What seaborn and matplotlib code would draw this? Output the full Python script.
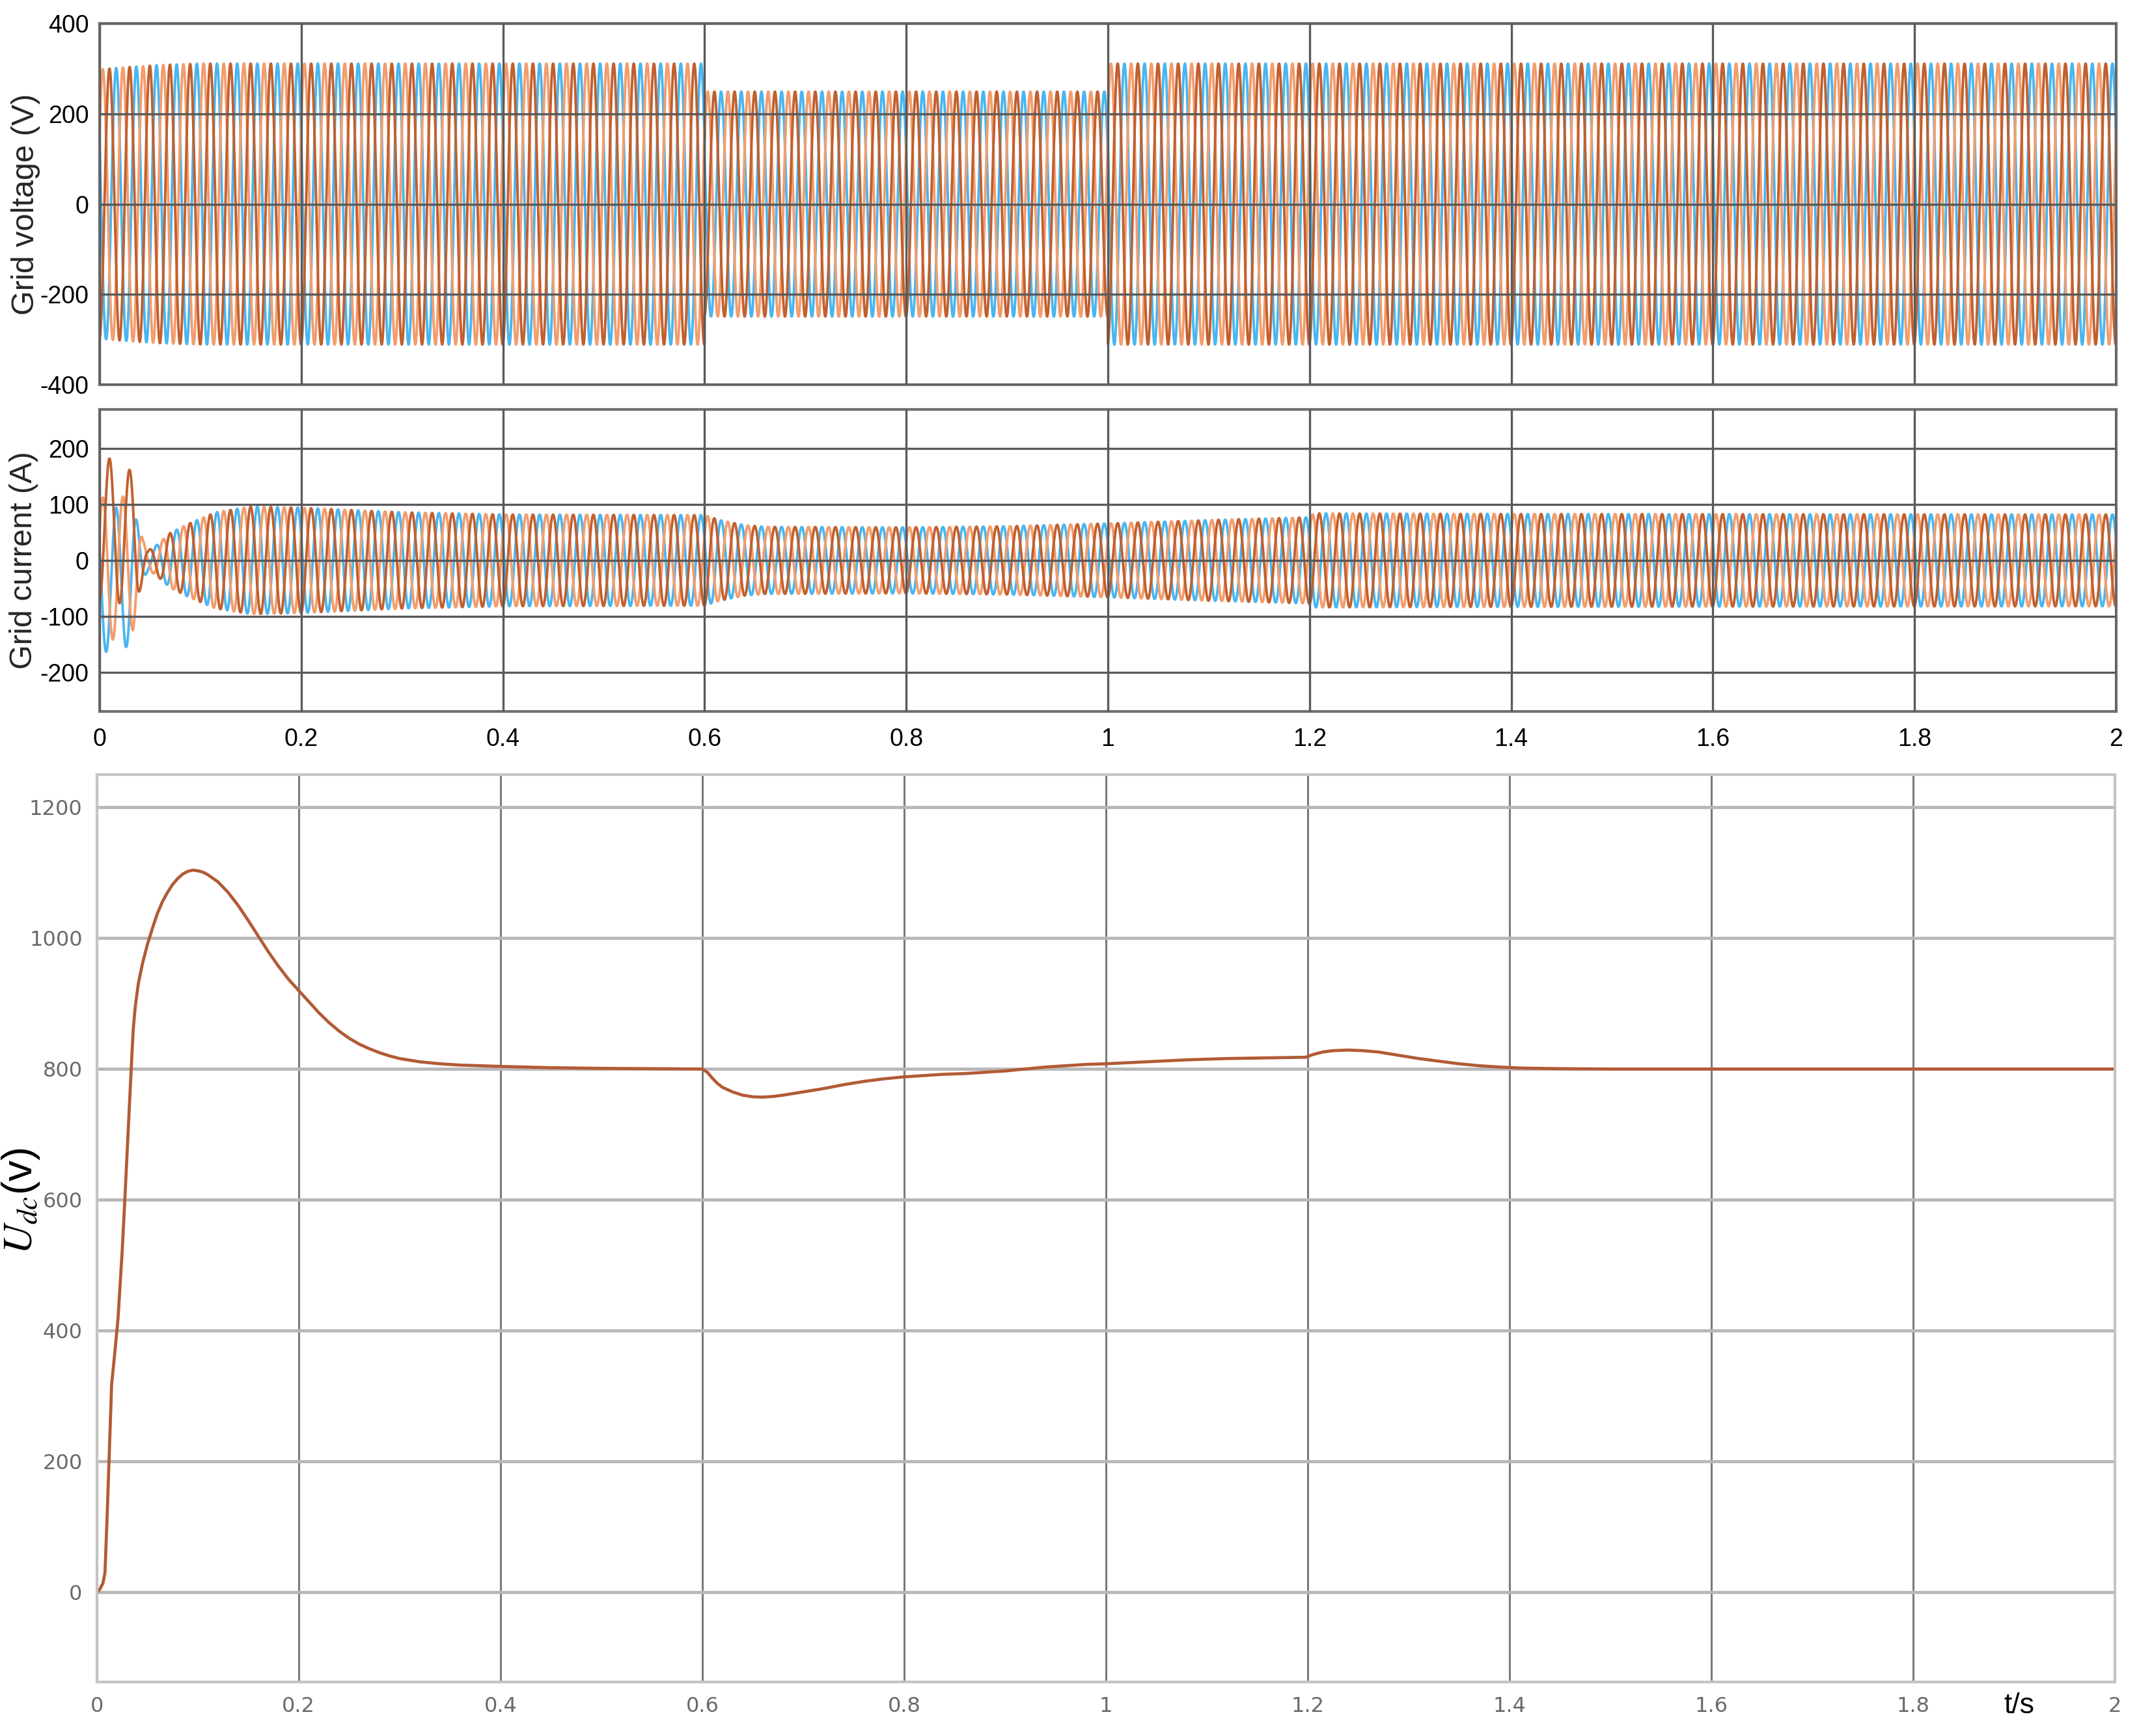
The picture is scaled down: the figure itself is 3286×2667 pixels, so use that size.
import numpy as np
import pandas as pd
import matplotlib.pyplot as plt
import matplotlib.ticker as mticker
import seaborn as sns

# ---- values ----
# grid voltage amplitude envelope (V), sag to 80% between 0.6 s and 1.0 s
v_env_t = [0.0, 0.02, 0.06, 0.10, 0.5999, 0.6, 0.9999, 1.0, 2.0]
v_env_amp = [298, 302, 308, 311, 311, 249, 249, 311, 311]

# grid current amplitude envelope (A)
i_env_t = [0.0, 0.008, 0.025, 0.033, 0.038, 0.043, 0.048, 0.055, 0.07, 0.09, 0.115,
           0.15, 0.2, 0.3, 0.4, 0.6, 0.615, 0.64, 0.66, 0.8, 0.9, 1.0, 1.1,
           1.199, 1.205, 1.4, 2.0]
i_env_amp = [125, 130, 125, 115, 80, 35, 18, 25, 49, 67, 86,
             96, 94, 86, 82, 81, 72, 63, 60, 59, 61, 66, 72,
             77, 84, 83, 82]

# start-up dc offset of each phase current (A)
i_dc_t = [0.0, 0.02, 0.033, 0.042]
i_dc_a = [55, 50, 40, 0]
i_dc_b = [-15, -12, -10, 0]
i_dc_c = [-35, -33, -30, 0]

grid_freq = 50
phases = ['a', 'b', 'c']
phase_shift_deg = [-85, 35, 155]
phase_colors = {'c': '#4ab6f0', 'b': '#f39d6d', 'a': '#c2602f'}

# dc-link voltage Udc (V)
udc_t = [0.0, 0.003, 0.006, 0.008, 0.010, 0.012, 0.0146, 0.018, 0.021, 0.025,
         0.028, 0.031, 0.034, 0.036, 0.038, 0.041, 0.045, 0.050, 0.055, 0.060,
         0.065, 0.070, 0.075, 0.080, 0.085, 0.090, 0.095, 0.100, 0.105, 0.110,
         0.120, 0.130, 0.140, 0.150, 0.160, 0.170, 0.180, 0.190, 0.200, 0.210,
         0.220, 0.230, 0.240, 0.250, 0.260, 0.270, 0.280, 0.290, 0.300, 0.320,
         0.340, 0.360, 0.380, 0.400, 0.450, 0.500, 0.600,
         0.605, 0.610, 0.615, 0.620, 0.630, 0.640, 0.650, 0.660, 0.670, 0.680,
         0.700, 0.720, 0.740, 0.760, 0.780, 0.800, 0.820, 0.840, 0.860, 0.880,
         0.900, 0.920, 0.940, 0.960, 0.980, 1.000, 1.040, 1.080, 1.120, 1.160,
         1.198, 1.205, 1.215, 1.225, 1.240, 1.255, 1.270, 1.290, 1.310, 1.330,
         1.350, 1.370, 1.390, 1.410, 1.450, 1.500, 2.000]
udc_v = [0, 5, 14, 30, 110, 200, 318, 370, 420, 520,
         610, 705, 800, 860, 895, 930, 960, 990, 1015, 1038,
         1056, 1070, 1082, 1091, 1098, 1102, 1104, 1103, 1101, 1097,
         1086, 1070, 1050, 1027, 1003, 979, 957, 937, 920, 903,
         886, 871, 858, 847, 838, 831, 825, 820, 816, 811,
         808, 806, 805, 804, 802, 801, 800,
         795, 786, 778, 772, 765, 760, 757.5, 757, 758, 760,
         765, 770, 776, 781, 785, 788, 790, 792, 793, 795,
         797, 800, 803, 805, 807, 808, 811, 814, 816, 817,
         818, 822, 826, 828, 829, 828, 826, 821, 816, 812,
         808, 805, 803, 801.5, 800.5, 800, 800]

# ---- build three-phase traces ----
t = np.linspace(0, 2, 40001)
rows_v, rows_i = [], []
dc = {'a': i_dc_a, 'b': i_dc_b, 'c': i_dc_c}
for ph, sh in zip(phases, phase_shift_deg):
    w = np.sin(2 * np.pi * grid_freq * t + np.deg2rad(sh))
    rows_v.append(pd.DataFrame({'t': t, 'val': np.interp(t, v_env_t, v_env_amp) * w, 'phase': ph}))
    cur = np.interp(t, i_env_t, i_env_amp) * w + np.interp(t, i_dc_t, dc[ph])
    rows_i.append(pd.DataFrame({'t': t, 'val': cur, 'phase': ph}))
df_v = pd.concat(rows_v, ignore_index=True)
df_i = pd.concat(rows_i, ignore_index=True)
df_u = pd.DataFrame({'t': udc_t, 'Udc': udc_v})

sns.set_theme(style='white')
plt.rcParams['font.family'] = ['Liberation Sans', 'DejaVu Sans']
plt.rcParams['mathtext.fontset'] = 'stix'
plt.rcParams['axes.unicode_minus'] = False

fig = plt.figure(figsize=(32.86, 26.67), dpi=100)
ax1 = fig.add_axes([0.0466, 0.7784, 0.9427, 0.2081])
ax2 = fig.add_axes([0.0466, 0.5902, 0.9427, 0.1740])
ax3 = fig.add_axes([0.0453, 0.0311, 0.9434, 0.5227])

hue_order = ['c', 'b', 'a']
sns.lineplot(data=df_v, x='t', y='val', hue='phase', hue_order=hue_order,
             palette=phase_colors, estimator=None, sort=False, legend=False,
             lw=2.8, ax=ax1)
sns.lineplot(data=df_i, x='t', y='val', hue='phase', hue_order=hue_order,
             palette=phase_colors, estimator=None, sort=False, legend=False,
             lw=2.8, ax=ax2)
sns.lineplot(data=df_u, x='t', y='Udc', color='#b15b35', lw=3.4, ax=ax3)

xt = np.arange(0, 2.01, 0.2)
for ax in (ax1, ax2):
    ax.set_xlim(0, 2)
    ax.set_xticks(xt)
    ax.xaxis.set_major_formatter(mticker.FormatStrFormatter('%g'))
    ax.grid(True, color='#5a5a5a', lw=2.4)
    ax.set_axisbelow(False)
    for s in ax.spines.values():
        s.set_color('#707070')
        s.set_linewidth(3)
    ax.tick_params(length=0, labelsize=27, colors='black', pad=12)
    ax.set_xlabel('')

ax1.set_ylim(-400, 400)
ax1.set_yticks([-400, -200, 0, 200, 400])
ax1.tick_params(axis='x', labelbottom=False)
ax1.set_ylabel('Grid voltage (V)', fontsize=35)
ax1.yaxis.set_label_coords(-0.0295, 0.5)

ax2.set_ylim(-270, 270)
ax2.set_yticks([-200, -100, 0, 100, 200])
ax2.tick_params(axis='x', pad=18)
ax2.set_ylabel('Grid current (A)', fontsize=35)
ax2.yaxis.set_label_coords(-0.0305, 0.5)

ax3.set_xlim(0, 2)
ax3.set_ylim(-137, 1250)
ax3.set_xticks(xt)
ax3.set_yticks(np.arange(0, 1201, 200))
ax3.xaxis.set_major_formatter(mticker.FormatStrFormatter('%g'))
ax3.xaxis.grid(True, color='#7a7a7a', lw=2.2)
ax3.yaxis.grid(True, color='#b8b8b8', lw=3.5)
ax3.set_axisbelow(True)
for s in ax3.spines.values():
    s.set_color('#c4c4c4')
    s.set_linewidth(3)
ax3.tick_params(length=0, labelsize=23, colors='#6a6a6a', pad=16)
for lab in ax3.get_xticklabels() + ax3.get_yticklabels():
    lab.set_fontfamily('DejaVu Sans')
ax3.set_ylabel(r'$U_{dc}$(v)', fontsize=46, color='black')
ax3.yaxis.set_label_coords(-0.0275, 0.53)
ax3.set_xlabel('t/s', fontsize=32, color='black')
ax3.xaxis.set_label_coords(0.9526, -0.026)
ax3.xaxis.label.set_va('center')

fig.savefig('out.png', dpi=100, facecolor='white')
